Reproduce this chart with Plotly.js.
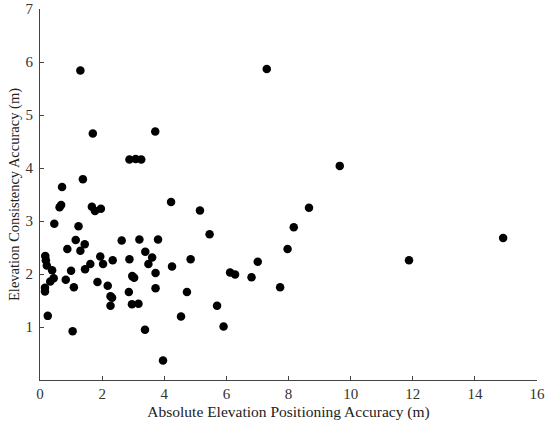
<!DOCTYPE html>
<html>
<head>
<meta charset="utf-8">
<script src="https://cdn.plot.ly/plotly-3.0.1.min.js"></script>
<style>html,body{margin:0;padding:0;background:#fff;}#chart{width:550px;height:426px;}</style>
</head>
<body>
<div id="chart"></div>
<script>
const absAccuracy = [
  0.17,0.19,0.22,0.39,0.44,0.33,0.16,0.16,0.25,0.46,
  0.63,0.68,0.71,0.83,0.88,1.00,1.09,1.05,1.15,1.24,
  1.30,1.44,1.45,1.38,1.30,1.62,1.67,1.77,1.96,1.70,
  1.85,1.94,2.03,2.18,2.27,2.32,2.27,2.34,2.63,2.88,
  2.86,2.96,2.97,3.03,3.20,3.17,2.88,3.08,3.26,3.39,
  3.49,3.61,3.72,3.72,3.80,3.38,3.96,3.71,4.22,4.25,
  4.54,4.73,4.85,5.15,5.46,5.70,5.91,6.12,6.28,6.81,
  7.01,7.30,7.73,7.97,8.17,8.66,9.65,11.88,14.91
];
const consAccuracy = [
  2.34,2.26,2.16,2.07,1.92,1.86,1.74,1.67,1.21,2.95,
  3.26,3.30,3.64,1.89,2.47,2.06,1.75,0.92,2.64,2.90,
  2.44,2.56,2.09,3.79,5.84,2.19,3.27,3.19,3.23,4.65,
  1.85,2.33,2.19,1.78,1.58,1.55,1.40,2.26,2.63,2.28,
  1.66,1.43,1.96,1.93,2.65,1.44,4.16,4.17,4.16,2.42,
  2.19,2.31,2.02,1.73,2.65,0.95,0.37,4.69,3.36,2.14,
  1.20,1.66,2.28,3.20,2.75,1.40,1.01,2.03,1.99,1.94,
  2.23,5.87,1.75,2.47,2.88,3.25,4.04,2.26,2.68
];
const xTicks = [0,2,4,6,8,10,12,14,16];
const yTicks = [1,2,3,4,5,6,7];

const trace = {
  x: absAccuracy, y: consAccuracy, type: 'scatter', mode: 'markers',
  marker: {color: '#000', size: 8.5}, showlegend: false, cliponaxis: false
};
const fontFam = '"Liberation Serif", "Times New Roman", serif';
const layout = {
  width: 550, height: 426,
  margin: {l: 40, r: 13, t: 9, b: 46},
  paper_bgcolor: '#fff', plot_bgcolor: '#fff',
  font: {family: fontFam, color: '#333', size: 15},
  xaxis: {
    range: [0, 16], tickvals: xTicks, ticktext: xTicks.map(String),
    showgrid: false, zeroline: false, showline: true, linecolor: '#444', linewidth: 1,
    ticks: 'inside', ticklen: 4, tickcolor: '#444',
    tickfont: {family: fontFam, size: 15, color: '#333'},
    title: {text: 'Absolute Elevation Positioning Accuracy (m)', font: {family: fontFam, size: 15.5, color: '#222'}, standoff: 5}
  },
  yaxis: {
    range: [0, 7], tickvals: yTicks, ticktext: yTicks.map(String),
    showgrid: false, zeroline: false, showline: true, linecolor: '#444', linewidth: 1,
    ticks: 'inside', ticklen: 4, tickcolor: '#444', ticklabelstandoff: 3,
    tickfont: {family: fontFam, size: 15, color: '#333'},
    title: {text: 'Elevation Consistency Accuracy (m)', font: {family: fontFam, size: 14.5, color: '#222'}, standoff: 2}
  }
};
Plotly.newPlot('chart', [trace], layout, {staticPlot: true, displayModeBar: false});
</script>
</body>
</html>
